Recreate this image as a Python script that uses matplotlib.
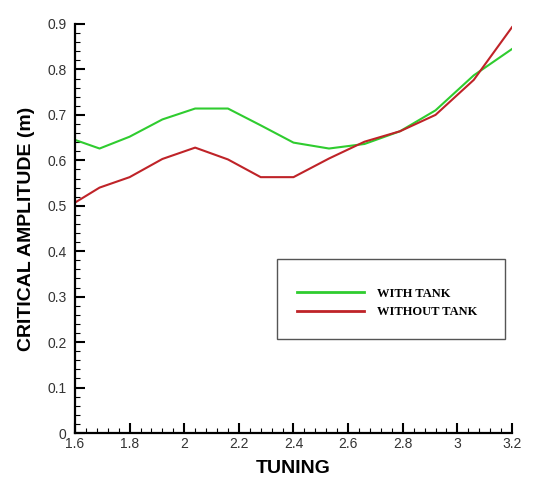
import numpy as np
import matplotlib
matplotlib.use("Agg")
import matplotlib.pyplot as plt
from matplotlib.ticker import MultipleLocator, FuncFormatter
from matplotlib.patches import Rectangle

# tuning values
tuning = [1.6, 1.69, 1.8, 1.92, 2.04, 2.16, 2.28, 2.4, 2.53, 2.66, 2.79, 2.92, 3.06, 3.2]

# critical amplitude (m)
with_tank = [0.645, 0.626, 0.652, 0.690, 0.714, 0.714, 0.677, 0.639, 0.626, 0.636,
             0.664, 0.710, 0.787, 0.845]
without_tank = [0.507, 0.540, 0.563, 0.603, 0.628, 0.602, 0.563, 0.563, 0.604, 0.641,
                0.664, 0.700, 0.777, 0.893]

x_ticks = [1.6, 1.8, 2.0, 2.2, 2.4, 2.6, 2.8, 3.0, 3.2]
y_ticks = [0, 0.1, 0.2, 0.3, 0.4, 0.5, 0.6, 0.7, 0.8, 0.9]

fig = plt.figure(figsize=(5.34, 4.79), dpi=100)
ax = fig.add_axes([0.1404, 0.0960, 0.8184, 0.8539])

ax.plot(tuning, with_tank, color="#2fcc2f", lw=1.5, label="WITH TANK")
ax.plot(tuning, without_tank, color="#bf2328", lw=1.5, label="WITHOUT TANK")

ax.set_xlim(1.6, 3.2)
ax.set_ylim(0, 0.9)
ax.set_xticks(x_ticks)
ax.set_yticks(y_ticks)
ax.xaxis.set_minor_locator(MultipleLocator(0.04))
ax.yaxis.set_minor_locator(MultipleLocator(0.02))
fmt = FuncFormatter(lambda v, p: ("%g" % round(v, 3)))
ax.xaxis.set_major_formatter(fmt)
ax.yaxis.set_major_formatter(fmt)

for side in ["top", "right"]:
    ax.spines[side].set_visible(False)
for side in ["left", "bottom"]:
    ax.spines[side].set_linewidth(1.6)

ax.tick_params(which="major", direction="in", length=7, width=1.5,
               labelsize=10, colors="black")
ax.tick_params(which="minor", direction="in", length=3.5, width=0.8)
ax.tick_params(axis="y", which="major", pad=6)
ax.tick_params(axis="x", which="major", pad=3)
for lab in ax.get_xticklabels() + ax.get_yticklabels():
    lab.set_fontfamily("Liberation Sans")
    lab.set_color("#333333")

ax.set_xlabel("TUNING", fontsize=14, fontweight="bold", family="Liberation Sans", labelpad=6)
ax.set_ylabel("CRITICAL AMPLITUDE (m)", fontsize=14, fontweight="bold",
              family="Liberation Sans", labelpad=9)

# legend box
ax.add_patch(Rectangle((0.462, 0.230), 0.522, 0.195, transform=ax.transAxes,
                       fill=False, edgecolor="#555555", lw=1.0, clip_on=False))
leg = ax.legend(loc="center left", bbox_to_anchor=(0.507, 0.318), frameon=False,
                prop={"family": "Liberation Serif", "weight": "bold", "size": 9},
                handlelength=5.4, handletextpad=1.0, labelspacing=0.55,
                borderpad=0, borderaxespad=0)
for ln in leg.get_lines():
    ln.set_linewidth(2)

fig.savefig("out.png", dpi=100)
